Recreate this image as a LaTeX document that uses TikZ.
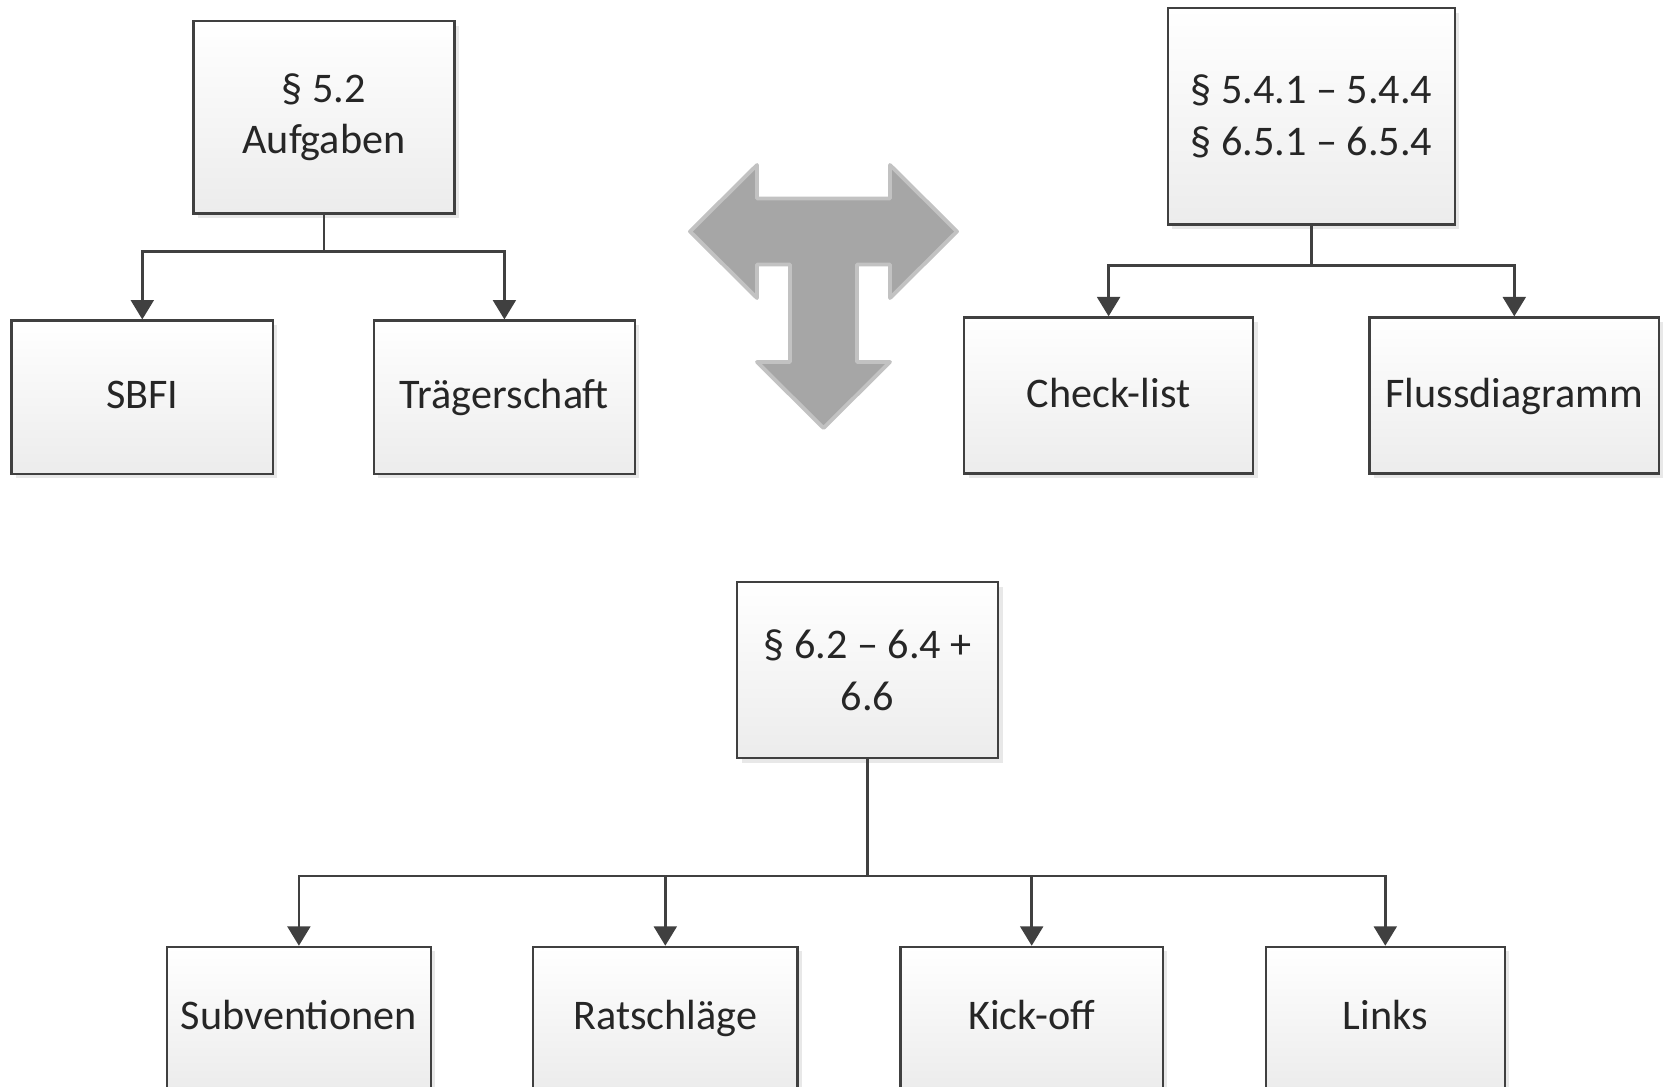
\documentclass[tikz,border=0pt]{standalone}
\usepackage{fontspec}
\setmainfont{Carlito}
\usetikzlibrary{arrows.meta,shadows}

\begin{document}
\begin{tikzpicture}[x=0.01cm, y=-0.01cm,
    box/.style={draw=boxline, line width=0.7pt, top color=white, bottom color=boxbot,
      drop shadow={shadow xshift=0.045cm, shadow yshift=-0.045cm, fill=black!30, opacity=0.3},
      inner sep=0pt, align=center, text=txt, font=\fontsize{12}{14.6}\selectfont},
    one/.style={text height=0.85em, text depth=0.2em},
    link/.style={draw=boxline, line width=0.7pt},
    arr/.style={link, -{Triangle[width=6.5pt,length=5.5pt]}},
  ]
        % Define colors
        \definecolor{boxline}{RGB}{64, 64, 64}
        \definecolor{boxbot}{RGB}{236, 236, 236}
        \definecolor{txt}{RGB}{38, 38, 38}
        \definecolor{tgray}{RGB}{166, 166, 166}
        \definecolor{tedge}{RGB}{194, 194, 194}

        \useasboundingbox (0,0) rectangle (1665,1087);
        \clip (0,0) rectangle (1665,1087);

        % --- § 5.2 ---
        \node[box, minimum width=2.61cm, minimum height=1.92cm] (aufg) at (323.9,117.3) {§ 5.2\\Aufgaben};
        \node[box, one, minimum width=2.61cm, minimum height=1.53cm] (sbfi) at (142.3,397.2) {SBFI};
        \node[box, one, minimum width=2.61cm, minimum height=1.53cm] (traeger) at (504.4,397.2) {Trägerschaft};
        \coordinate (aufgJ) at (323.9,251.7);
        \draw[link] (aufg) -- (aufgJ);
        \draw[arr] (aufgJ) -| (sbfi);
        \draw[arr] (aufgJ) -| (traeger);

        % --- § 5.4 / 6.5 ---
        \node[box, minimum width=2.87cm, minimum height=2.16cm] (abs54) at (1311.4,116.3) {§ 5.4.1 – 5.4.4\\§ 6.5.1 – 6.5.4};
        \node[box, one, minimum width=2.89cm, minimum height=1.56cm] (check) at (1108.6,395.6) {Check-list};
        \node[box, one, minimum width=2.89cm, minimum height=1.56cm] (fluss) at (1514.3,395.6) {Flussdiagramm};
        \coordinate (absJ) at (1311.4,265.5);
        \draw[link] (abs54) -- (absJ);
        \draw[arr] (absJ) -| (check);
        \draw[arr] (absJ) -| (fluss);

        % --- T arrow ---
        \filldraw[fill=tgray, draw=tedge, line width=1.1pt, line join=round]
            (690,231.5) -- (757,165) -- (757,198.5) -- (890,198.5) -- (890,165) -- (957,231.5)
            -- (890,298) -- (890,264.5) -- (857,264.5) -- (857,362) -- (890,362) -- (823.5,428)
            -- (757,362) -- (790,362) -- (790,264.5) -- (757,264.5) -- (757,298) -- cycle;

        % --- § 6.2 - 6.6 ---
        \node[box, minimum width=2.61cm, minimum height=1.76cm] (abs62) at (867.6,670.1) {§ 6.2 – 6.4 +\\6.6};
        \node[box, one, minimum width=2.64cm, minimum height=1.42cm] (subv) at (298.9,1018) {Subventionen};
        \node[box, one, minimum width=2.64cm, minimum height=1.42cm] (rat) at (665.3,1018) {Ratschläge};
        \node[box, one, minimum width=2.62cm, minimum height=1.42cm] (kick) at (1031.7,1018) {Kick-off};
        \node[box, one, minimum width=2.39cm, minimum height=1.42cm] (links) at (1385.3,1018) {Links};
        \coordinate (ratJ) at (867.6,876.1);
        \draw[link] (abs62) -- (ratJ);
        \foreach \k in {subv, rat, kick, links}
            \draw[arr] (ratJ) -| (\k);
\end{tikzpicture}
\end{document}
